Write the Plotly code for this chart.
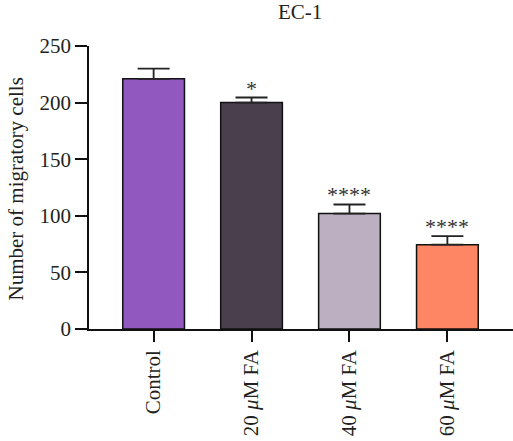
import plotly.graph_objects as go

categories = ["Control", "20 <i>μ</i>M FA", "40 <i>μ</i>M FA", "60 <i>μ</i>M FA"]
values = [221, 200, 102, 74.5]
errors = [9, 4.5, 8, 7.5]
stars = ["", "*", "****", "****"]
colors = ["#9158BF", "#4A3F4C", "#BCAFC2", "#FF8665"]
y_ticks = [0, 50, 100, 150, 200, 250]

FONT = "Liberation Serif"
TXT = "#231F20"
FS = 21

fig = go.Figure()
fig.add_trace(go.Bar(
    x=categories, y=values,
    marker=dict(color=colors, line=dict(color="#111111", width=1.5)),
    width=0.63,
    error_y=dict(type="data", array=errors, arrayminus=[0]*len(errors),
                 symmetric=False, color="#222222", thickness=1.8, width=16),
    showlegend=False,
))

for c, v, e, s in zip(categories, values, errors, stars):
    if s:
        fig.add_annotation(x=c, y=v + e, text=s, showarrow=False,
                           yanchor="bottom", yshift=-5,
                           font=dict(family=FONT, size=22, color="#333333"))

fig.add_annotation(xref="paper", yref="paper", x=-89/424, xanchor="left", xshift=1,
                   y=0.5, yshift=-2, text="Number of migratory cells", textangle=-90,
                   showarrow=False, font=dict(family=FONT, size=FS, color=TXT))

fig.update_layout(
    width=513, height=441,
    margin=dict(l=89, r=0, t=46, b=112, autoexpand=False),
    paper_bgcolor="white", plot_bgcolor="white",
    font=dict(family=FONT, size=FS, color=TXT),
    title=dict(text="EC-1", x=0.585, xanchor="center", y=0.99, yanchor="top",
               font=dict(family=FONT, size=FS, color=TXT)),
)
fig.update_xaxes(
    range=[-0.66, 3.67], showline=True, linecolor="#111111", linewidth=1.5,
    ticks="outside", ticklen=11, tickwidth=1.5, tickcolor="#111111",
    tickangle=-90, showgrid=False, zeroline=False, automargin=False,
    tickfont=dict(family=FONT, size=FS, color=TXT),
)
fig.update_yaxes(
    range=[0, 250], tickvals=y_ticks, showline=True, linecolor="#111111", linewidth=1.5,
    ticks="outside", ticklen=12, tickwidth=1.5, tickcolor="#111111",
    showgrid=False, zeroline=False, automargin=False,
    tickfont=dict(family=FONT, size=FS, color=TXT),
)

fig.write_html("out.html", config={"displayModeBar": False},
               post_script="document.body.style.margin='0';document.body.style.overflow='hidden';")
